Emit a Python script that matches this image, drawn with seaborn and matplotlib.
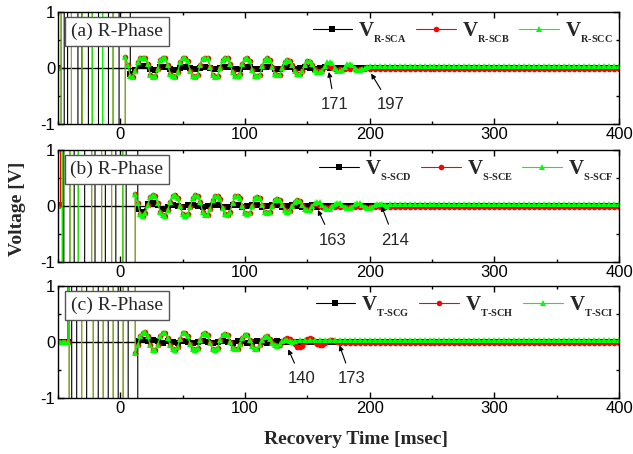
import matplotlib
matplotlib.use('Agg')
import matplotlib.pyplot as plt
from matplotlib.ticker import MultipleLocator
import seaborn as sns

sns.set_theme(style='ticks')
plt.rcParams['font.family'] = ['Liberation Sans', 'DejaVu Sans']
plt.rcParams['axes.unicode_minus'] = False
plt.rcParams['mathtext.fontset'] = 'custom'
plt.rcParams['mathtext.rm'] = 'Liberation Serif'
plt.rcParams['mathtext.bf'] = 'Liberation Serif:bold'

# ---- data (time in msec, voltage in V) ----
# off-scale swings before recovery: times where each trace crosses the plot
cross_a_blk = [-45, -42.3, -34, -31, -25.6, -17.5, -9.5, -1, 7.7]
cross_a_grn = [-47.5, -39.2, -30.8, -22.5, -14.2, -5.8, 3.7]
cross_b_blk = [-45.3, -37, -28.6, -20.3, -12, -3.6, 4.7, 13.7]
cross_b_grn = [-46.5, -40.4, -33.7, -23, -15, -7, 2, 11.7]
cross_c_blk = [-39, -35, -27, -17.7, -9.7, -1.7, 6.3, 13.7]
cross_c_grn = [-41, -31, -21.7, -13.7, -5.7, 2.3, 11.7]

# recovery transients, 2 ms samples (green / red), 4 ms samples (black)
g_a = [0.2, 0.05, -0.15, -0.16, -0.05, 0.1, 0.17, 0.18, 0.17, 0.08,
       -0.12, -0.16, -0.15, -0.02, 0.14, 0.18, 0.17, 0.06, -0.1, -0.15,
       -0.16, -0.08, 0.1, 0.17, 0.18, 0.12, -0.05, -0.15, -0.16, -0.12,
       0.05, 0.16, 0.18, 0.17, 0.02, -0.13, -0.16, -0.15, 0.0, 0.15,
       0.18, 0.17, 0.08, -0.08, -0.15, -0.15, -0.1, 0.07, 0.16, 0.17,
       0.12, -0.04, -0.14, -0.15, -0.12, 0.03, 0.15, 0.17, 0.15, 0.02,
       -0.11, -0.13, -0.12, 0.0, 0.11, 0.14, 0.13, 0.05, -0.06, -0.1,
       -0.1, -0.06, 0.05, 0.12, 0.12, 0.08, -0.03, -0.08, -0.08, -0.06,
       0.03, 0.1, 0.11, 0.09, 0.0, -0.06, -0.06, -0.04, 0.02, 0.07,
       0.08, 0.06, 0.0, -0.03, -0.03, -0.02, 0.0, 0.02]
r_a = g_a[:74] + [0.1, 0.06, -0.02, -0.06, -0.06, -0.03, 0.02, 0.04, 0.03,
                  0.0, -0.02]
k_a = [-0.1, -0.04, 0.04, 0.03, -0.02, -0.03, 0.01, 0.02, -0.01, -0.03,
       0.0, 0.02, 0.0, -0.02, 0.0, 0.02, 0.0, -0.02, 0.0, 0.02,
       0.01, -0.02, -0.01, 0.02, 0.01, -0.02, -0.01, 0.02, 0.01, -0.01,
       -0.01, 0.01, 0.01, -0.01, 0.0, 0.01, 0.0, -0.01, 0.0, 0.01, 0.0]

g_b = [0.22, 0.05, -0.15, -0.18, -0.12, 0.02, 0.16, 0.19, 0.18, 0.06,
       -0.1, -0.16, -0.17, -0.08, 0.08, 0.18, 0.19, 0.15, 0.0, -0.14,
       -0.17, -0.15, -0.02, 0.14, 0.19, 0.18, 0.08, -0.1, -0.16, -0.16,
       -0.06, 0.1, 0.18, 0.18, 0.12, -0.04, -0.15, -0.16, -0.1, 0.05,
       0.17, 0.18, 0.14, 0.0, -0.13, -0.15, -0.12, 0.0, 0.14, 0.16,
       0.14, 0.02, -0.1, -0.13, -0.1, 0.0, 0.11, 0.13, 0.11, 0.02,
       -0.08, -0.1, -0.09, 0.0, 0.08, 0.1, 0.09, 0.02, -0.06, -0.08,
       -0.07, 0.0, 0.06, 0.08, 0.07, 0.01, -0.04, -0.06, -0.05, 0.0,
       0.04, 0.06, 0.06, 0.02, -0.02, -0.04, -0.04, -0.01, 0.03, 0.05,
       0.05, 0.02, -0.01, -0.03, -0.03, -0.01, 0.02, 0.04, 0.04, 0.03,
       0.01, 0.0]
r_b = g_b[:70] + [-0.05, 0.0, 0.04, 0.03, 0.0, -0.02]
k_b = [-0.05, -0.1, 0.03, 0.05, 0.02, -0.05, -0.02, 0.02, 0.0, -0.02,
       0.01, 0.02, 0.0, -0.02, 0.0, 0.02, 0.01, -0.02, -0.01, 0.02,
       0.01, -0.02, 0.0, 0.02, 0.01, -0.02, 0.0, 0.01, 0.01, -0.01,
       0.0, 0.01, 0.0, -0.01, 0.0, 0.01, -0.01]

g_c = [-0.2, -0.05, 0.1, 0.17, 0.18, 0.1, -0.06, -0.14, -0.14, -0.05,
       0.1, 0.17, 0.17, 0.08, -0.06, -0.13, -0.14, -0.08, 0.06, 0.16,
       0.17, 0.1, -0.04, -0.12, -0.14, -0.1, 0.04, 0.15, 0.17, 0.12,
       -0.02, -0.12, -0.14, -0.1, 0.04, 0.13, 0.15, 0.13, 0.0, -0.1,
       -0.13, -0.13, -0.04, 0.08, 0.13, 0.13, 0.04, -0.07, -0.12, -0.12,
       -0.06, 0.04, 0.09, 0.1, 0.06, -0.02, -0.06, -0.07, -0.04, 0.02,
       0.04, 0.04, 0.02, 0.0, 0.02]
r_c = g_c[:58] + [-0.06, 0.0, 0.05, 0.07, 0.06, 0.02, -0.04, -0.08, -0.09,
                  -0.07, 0.0, 0.05, 0.07, 0.05, 0.0, -0.04, -0.05, -0.05,
                  -0.02, 0.02, 0.04, 0.04, 0.02, 0.0]
k_c = [0.02, 0.03, 0.02, 0.03, 0.01, -0.01, 0.02, 0.0, -0.01, 0.02,
       0.0, -0.02, 0.0, 0.02, 0.0, -0.02, 0.0, 0.02, 0.0, -0.01,
       0.01, 0.01, -0.01, 0.0, 0.01, 0.0, -0.01, 0.0, 0.01, 0.0, 0.0]

# first sample time of each transient
start_a = {'k': 8, 'r': 4, 'g': 4}
start_b = {'k': 14, 'r': 12, 'g': 12}
start_c = {'k': 14, 'r': 12, 'g': 12}

# settled residual level of each trace
level = {'k': 0.0, 'r': -0.02, 'g': 0.03}
# samples before the disturbance (panel c shows a flat stretch)
pre_b_red = ([-50, -48], [0.0, 0.04])
pre_c_flat = ([-50, -48, -46, -44, -42], [0.0, 0.0, 0.0, 0.0, 0.0])

t_tail = list(range(40, 401, 4))

labels = {
    'a': ['R‐SCA', 'R‐SCB', 'R‐SCC'],
    'b': ['S‐SCD', 'S‐SCE', 'S‐SCF'],
    'c': ['T‐SCG', 'T‐SCH', 'T‐SCI'],
}
notes = {
    'a': [(171, 167.3, -0.07, 172, -0.66), (197, 201.2, -0.1, 216.5, -0.66)],
    'b': [(163, 158.5, -0.07, 170, -0.61), (214, 209.5, 0.0, 220, -0.61)],
    'c': [(140, 134.7, -0.13, 145.4, -0.66), (173, 175.8, -0.06, 185.4, -0.66)],
}

BIG = 40.0


def build(pre, crossings, last_up, t0, step, vals, lvl):
    xs, ys = list(pre[0]), list(pre[1])
    n = len(crossings)
    d = 1 if last_up else -1
    if n % 2 == 0:
        d = -d
    for i, c in enumerate(crossings):
        if i < n - 1:
            xs += [c - 0.3, c + 0.3]
            ys += [-d * BIG, d * BIG]
        else:
            xs.append(c)
            ys.append(-d * BIG)
        d = -d
    ts = [t0 + step * i for i in range(len(vals))]
    xs += ts
    ys += list(vals)
    tail = [t for t in t_tail if t > ts[-1]]
    xs += tail
    ys += [lvl] * len(tail)
    return xs, ys


panels = {
    'a': dict(pre_k=([-50], [0.0]), pre_r=([-50], [0.0]), pre_g=([-50], [0.0]),
              ck=cross_a_blk, cg=cross_a_grn, k_up=False, g_up=True,
              st=start_a, k=k_a, r=r_a, g=g_a),
    'b': dict(pre_k=([-50], [0.0]), pre_r=pre_b_red, pre_g=([-50], [0.0]),
              ck=cross_b_blk, cg=cross_b_grn, k_up=False, g_up=True,
              st=start_b, k=k_b, r=r_b, g=g_b),
    'c': dict(pre_k=pre_c_flat, pre_r=pre_c_flat, pre_g=pre_c_flat,
              ck=cross_c_blk, cg=cross_c_grn, k_up=True, g_up=False,
              st=start_c, k=k_c, r=r_c, g=g_c),
}

fig = plt.figure(figsize=(6.33, 4.54), dpi=100)
bottoms = {'a': 0.7269, 'b': 0.4229, 'c': 0.1233}
serif = 'Liberation Serif'

for key, p in panels.items():
    ax = fig.add_axes([0.0916, bottoms[key], 0.8863, 0.2467])
    ax.axhline(0, color='black', lw=1, zorder=1)
    kx, ky = build(p['pre_k'], p['ck'], p['k_up'], p['st']['k'], 4, p['k'], level['k'])
    rx, ry = build(p['pre_r'], p['cg'], p['g_up'], p['st']['r'], 2, p['r'], level['r'])
    gx, gy = build(p['pre_g'], p['cg'], p['g_up'], p['st']['g'], 2, p['g'], level['g'])
    lab = labels[key]
    sns.lineplot(x=kx, y=ky, ax=ax, sort=False, estimator=None, color='black',
                 lw=0.8, marker='s', markersize=3.8, markeredgewidth=0,
                 label=r'$\mathbf{V}_{{}_{\mathbf{%s}}}$' % lab[0])
    sns.lineplot(x=rx, y=ry, ax=ax, sort=False, estimator=None, color='#ff0000',
                 lw=0.8, marker='o', markersize=4, markeredgewidth=0,
                 label=r'$\mathbf{V}_{{}_{\mathbf{%s}}}$' % lab[1])
    sns.lineplot(x=gx, y=gy, ax=ax, sort=False, estimator=None, color='#00ff00',
                 lw=0.8, marker='^', markersize=4.6, markeredgewidth=0,
                 label=r'$\mathbf{V}_{{}_{\mathbf{%s}}}$' % lab[2])

    ax.set_xlim(-50, 400)
    ax.set_ylim(-1, 1)
    ax.set_xticks([0, 100, 200, 300, 400])
    ax.xaxis.set_minor_locator(MultipleLocator(50))
    ax.set_yticks([-1, 0, 1])
    ax.yaxis.set_minor_locator(MultipleLocator(0.5))
    ax.tick_params(which='both', direction='in', top=True, right=True,
                   colors='black', width=1)
    ax.tick_params(which='major', length=4, labelsize=12, pad=2)
    ax.tick_params(which='minor', length=2.5)
    for spine in ax.spines.values():
        spine.set_color('black')
        spine.set_linewidth(1)
    ax.set_xlabel('')
    ax.set_ylabel('')

    ax.text(0.105, 0.83, '(%s) R-Phase' % key, transform=ax.transAxes,
            ha='center', va='center', fontsize=14, family=serif,
            bbox=dict(boxstyle='square,pad=0.3', fc='white', ec='#555555', lw=1))

    ax.legend(loc='upper right', bbox_to_anchor=(1.012, 1.035), ncol=3,
              frameon=False, fontsize=15, handlelength=1.9,
              handletextpad=0.3, columnspacing=0.45, borderaxespad=0.2)

    for txt, x0, y0, x1, y1 in notes[key]:
        ax.annotate(str(txt), xy=(x0, y0), xytext=(x1, y1), fontsize=12,
                    ha='center', va='center',
                    arrowprops=dict(arrowstyle='-|>', color='black', lw=0.8,
                                    mutation_scale=7, shrinkA=4, shrinkB=0))

fig.text(0.028, 0.54, 'Voltage [V]', rotation=90, ha='center', va='center',
         fontsize=14, fontweight='bold', family=serif)
fig.text(0.563, 0.031, 'Recovery Time [msec]', ha='center', va='center',
         fontsize=14, fontweight='bold', family=serif)

fig.savefig('out.png', dpi=100)
